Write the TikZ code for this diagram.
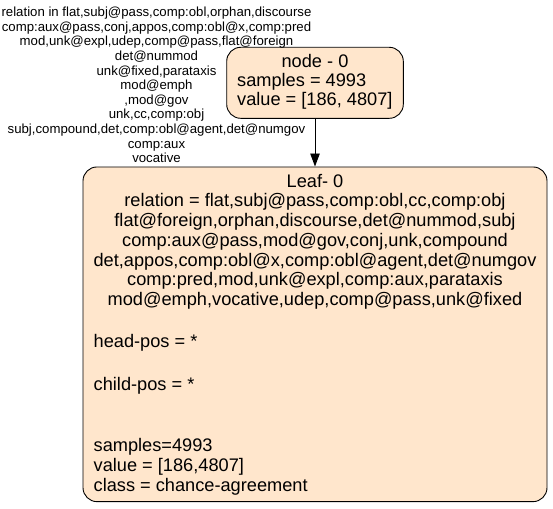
\documentclass[tikz,border=0pt]{standalone}
\usepackage{fontspec}
\setmainfont{Liberation Sans}
\usetikzlibrary{arrows.meta}
\definecolor{nodefill}{RGB}{255,230,204}
\begin{document}
\begin{tikzpicture}[x=1pt,y=-1pt,
  treebox/.style={draw=black, line width=0.9pt, fill=nodefill, rounded corners=14pt, inner sep=0pt},
  bigtext/.style={font=\fontsize{18.2}{19.75}\selectfont, inner sep=0pt, anchor=base},
  lefttext/.style={bigtext, anchor=base west},
  edgetext/.style={font=\fontsize{13.2}{14.6}\selectfont, inner sep=0pt, align=center},
  link/.style={-{Triangle[length=13pt,width=9.5pt]}, line width=0.9pt}]
\useasboundingbox (0,0) rectangle (553,508);

% split node and leaf boxes
\node[treebox, minimum width=176.6pt, minimum height=71pt] (root) at (315,82.8) {};
\node[treebox, minimum width=464pt, minimum height=334.7pt] (leaf) at (315,334.3) {};

% split node contents
\node[bigtext] (rootTitle) at (315,68) {node - 0};
\node[lefttext] (rootSamples) at (237,87) {samples = 4993};
\node[lefttext] (rootValue) at (237,106) {value = [186, 4807]};

% connector with its condition
\draw[link] (root) -- (leaf);
\node[edgetext] (cond) at (156.5,85) {relation in flat,subj@pass,comp:obl,orphan,discourse\\
comp:aux@pass,conj,appos,comp:obl@x,comp:pred\\
mod,unk@expl,udep,comp@pass,flat@foreign\\
det@nummod\\
unk@fixed,parataxis\\
mod@emph\\
,mod@gov\\
unk,cc,comp:obj\\
subj,compound,det,comp:obl@agent,det@numgov\\
comp:aux\\
vocative};

% leaf contents
\node[bigtext] (leafTitle) at (315,187) {Leaf- 0};
\node[bigtext] (leafRel1) at (315,206.75) {relation = flat,subj@pass,comp:obl,cc,comp:obj};
\node[bigtext] (leafRel2) at (315,226.5) {flat@foreign,orphan,discourse,det@nummod,subj};
\node[bigtext] (leafRel3) at (315,246.25) {comp:aux@pass,mod@gov,conj,unk,compound};
\node[bigtext] (leafRel4) at (315,266) {det,appos,comp:obl@x,comp:obl@agent,det@numgov};
\node[bigtext] (leafRel5) at (315,285.75) {comp:pred,mod,unk@expl,comp:aux,parataxis};
\node[bigtext] (leafRel6) at (315,305.5) {mod@emph,vocative,udep,comp@pass,unk@fixed};
\node[lefttext] (leafHead) at (93.5,347.3) {head-pos = *};
\node[lefttext] (leafChild) at (93.5,390) {child-pos = *};
\node[lefttext] (leafSamples) at (93.5,451.7) {samples=4993};
\node[lefttext] (leafValue) at (93.5,471.7) {value = [186,4807]};
\node[lefttext] (leafClass) at (93.5,491) {class = chance-agreement};
\end{tikzpicture}
\end{document}
